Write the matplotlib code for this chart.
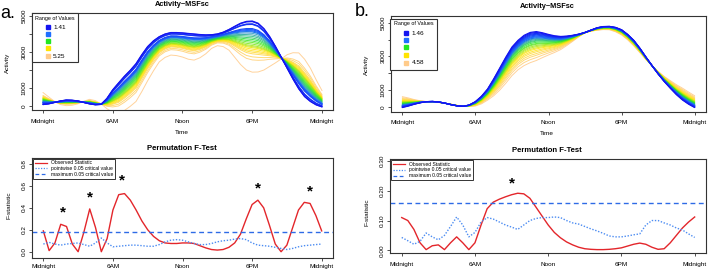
"""Functional regression of activity on MSFsc, with permutation F-tests (panels a and b)."""

import matplotlib
matplotlib.use("Agg")
import matplotlib.pyplot as plt
import numpy as np
from matplotlib.colors import LinearSegmentedColormap
from matplotlib.lines import Line2D
from matplotlib.patches import Rectangle

plt.rcParams["font.family"] = ["Liberation Sans", "DejaVu Sans"]

# --- Data -----------------------------------------------------------------
half_hours = [h / 2 for h in range(49)]
tick_hours = [0, 6, 12, 18, 24]
tick_names = ["Midnight", "6AM", "Noon", "6PM", "Midnight"]

# panel a: fitted activity curve at lowest and highest MSFsc (half-hour grid)
a_low_curve = [80, 120, 200, 280, 330, 320, 280, 200, 120, 70, 90, 420, 900, 1280,
               1650, 1980, 2350, 2850, 3300, 3620, 3850, 4000, 4080, 4080, 4060, 4030,
               4000, 3970, 3950, 3960, 4000, 4100, 4250, 4430, 4600, 4700, 4720, 4600,
               4300, 3850, 3300, 2700, 2100, 1500, 950, 520, 250, 60, -50]
a_high_curve = [750, 500, 250, 80, 20, 40, 120, 260, 370, 300, 120, -150, -350, -400,
                -250, -20, 250, 800, 1400, 1950, 2450, 2700, 2830, 2800, 2720, 2600,
                2550, 2680, 2900, 3200, 3350, 3300, 3100, 2700, 2300, 2000, 1880, 1890,
                2000, 2200, 2400, 2620, 2850, 2960, 2950, 2600, 2100, 1450, 850]
a_msfsc = [1.41, 1.45, 1.62, 1.66, 1.98, 2.06, 2.14, 2.22, 2.33, 2.45, 2.56, 2.68,
           2.79, 2.91, 3.02, 3.14, 3.25, 3.33, 3.41, 3.52, 3.64, 3.75, 3.87, 4.10,
           4.33, 5.25]

# panel b
b_low_curve = [-50, 40, 150, 240, 300, 310, 280, 210, 120, 50, 20, 100, 300, 620,
               1050, 1650, 2300, 2950, 3550, 3950, 4250, 4420, 4470, 4400, 4300, 4220,
               4180, 4200, 4250, 4320, 4420, 4560, 4700, 4770, 4780, 4720, 4580, 4300,
               3950, 3480, 2950, 2440, 1950, 1500, 1100, 720, 400, 150, -50]
b_high_curve = [600, 520, 420, 350, 300, 280, 250, 200, 150, 80, 30, 10, 40, 170,
                390, 650, 990, 1400, 1850, 2200, 2450, 2620, 2750, 2920, 3080, 3230,
                3400, 3640, 3900, 4170, 4400, 4500, 4550, 4590, 4580, 4460, 4270, 3980,
                3620, 3220, 2800, 2440, 2100, 1800, 1550, 1310, 1100, 870, 650]
b_msfsc = [1.46, 1.55, 1.65, 1.74, 1.83, 1.93, 2.02, 2.12, 2.21, 2.30, 2.40, 2.49,
           2.61, 2.74, 2.83, 2.96, 3.08, 3.21, 3.33, 3.49, 3.64, 3.83, 4.02, 4.27, 4.58]

range_colors = ["#1414F0", "#1E6EFF", "#22E622", "#FFE400", "#FFCB8A"]

# permutation F-tests, half-hour grid
a_observed = [0.19, 0.01, 0.08, 0.25, 0.23, 0.07, 0.0, 0.18, 0.39, 0.22, 0.0, 0.12,
              0.38, 0.52, 0.53, 0.47, 0.38, 0.28, 0.2, 0.14, 0.1, 0.08, 0.075, 0.075,
              0.08, 0.08, 0.075, 0.055, 0.035, 0.02, 0.015, 0.02, 0.04, 0.08, 0.16,
              0.3, 0.43, 0.47, 0.4, 0.24, 0.07, 0.0, 0.06, 0.22, 0.38, 0.45, 0.44,
              0.33, 0.19]
a_pointwise = [0.07, 0.085, 0.07, 0.06, 0.07, 0.075, 0.08, 0.065, 0.05, 0.08, 0.125,
               0.08, 0.045, 0.05, 0.055, 0.06, 0.06, 0.055, 0.05, 0.05, 0.065, 0.09,
               0.105, 0.11, 0.105, 0.09, 0.075, 0.065, 0.065, 0.075, 0.09, 0.1, 0.105,
               0.115, 0.12, 0.11, 0.08, 0.06, 0.055, 0.05, 0.04, 0.03, 0.02, 0.03,
               0.045, 0.055, 0.06, 0.065, 0.07]
a_maximum = 0.18
a_signif_hours = [1.7, 4.0, 6.75, 18.5, 23.0]
a_signif_heights = [0.36, 0.49, 0.65, 0.58, 0.55]

b_observed = [0.11, 0.10, 0.07, 0.025, 0.002, 0.015, 0.018, 0.002, 0.025, 0.045, 0.025,
              0.002, 0.025, 0.085, 0.14, 0.162, 0.172, 0.18, 0.187, 0.192, 0.19, 0.175,
              0.145, 0.115, 0.085, 0.06, 0.042, 0.028, 0.018, 0.01, 0.005, 0.003, 0.002,
              0.002, 0.003, 0.005, 0.008, 0.014, 0.02, 0.024, 0.02, 0.01, 0.003, 0.005,
              0.025, 0.05, 0.075, 0.095, 0.112]
b_pointwise = [0.043, 0.032, 0.02, 0.03, 0.058, 0.045, 0.035, 0.05, 0.08, 0.112, 0.085,
               0.045, 0.06, 0.095, 0.11, 0.105, 0.095, 0.085, 0.078, 0.07, 0.085, 0.1,
               0.107, 0.11, 0.11, 0.112, 0.11, 0.1, 0.092, 0.088, 0.08, 0.072, 0.065,
               0.057, 0.048, 0.045, 0.045, 0.048, 0.052, 0.055, 0.085, 0.1, 0.1, 0.092,
               0.085, 0.075, 0.068, 0.055, 0.043]
b_maximum = 0.16
b_signif_hours = [9.0]
b_signif_heights = [0.225]

RED = "#E3262B"
BLUE_DOT = "#4C8CF2"
BLUE_DASH = "#2E6BE6"
EDGE = "#333333"
W, H = 708, 270


def add_axes_px(fig, left, top, right, bottom):
    return fig.add_axes([left / W, 1 - bottom / H, (right - left) / W, (bottom - top) / H])


def style_axes(ax, ylim, yticks, ylabels, xlab_pad):
    ax.set_xlim(-0.96, 24.96)
    ax.set_ylim(*ylim)
    ax.set_xticks(tick_hours)
    ax.set_xticklabels(tick_names)
    ax.set_yticks(yticks)
    ax.set_yticklabels(ylabels, rotation=90, va="center")
    ax.tick_params(labelsize=4.6, length=2.2, width=0.6, color=EDGE, pad=1.5)
    ax.tick_params(axis="x", pad=xlab_pad)
    for s in ax.spines.values():
        s.set_color(EDGE)
        s.set_linewidth(0.8)


def draw_family(ax, low, high, msfsc):
    low = np.array(low, dtype=float)
    high = np.array(high, dtype=float)
    cmap = LinearSegmentedColormap.from_list("range", range_colors)
    n = len(msfsc)
    lo, hi = msfsc[0], msfsc[-1]
    # linear functional model: each subject curve sits between the two extremes
    for rank in range(n - 1, -1, -1):
        x = msfsc[rank]
        frac = (x - lo) / (hi - lo)
        col = cmap(rank / (n - 1))
        blue_side = rank < n * 0.3
        ax.plot(half_hours, low + (high - low) * frac, color=col,
                lw=0.9 if blue_side else 0.7, alpha=1.0 if blue_side else 0.85,
                solid_capstyle="round", solid_joinstyle="round")


def range_legend(ax, box, title_y, rows_y, mark_x, text_x, labels, ax_px):
    left, top, width, height = ax_px

    def fx(x):
        return (x - left) / width

    def fy(y):
        return 1 - (y - top) / height

    x0, y0, x1, y1 = box
    ax.add_patch(Rectangle((fx(x0), fy(y1)), fx(x1) - fx(x0), fy(y0) - fy(y1),
                           transform=ax.transAxes, facecolor="white", edgecolor=EDGE,
                           lw=0.8, zorder=5, clip_on=False))
    ax.text(fx((x0 + x1) / 2), fy(title_y), "Range of Values", transform=ax.transAxes,
            ha="center", va="center", fontsize=3.9, zorder=6)
    for col, yy, lab in zip(range_colors, rows_y, labels):
        ax.plot([fx(mark_x)], [fy(yy)], marker="s", ms=2.3, color=col,
                transform=ax.transAxes, zorder=6, clip_on=False)
        ax.text(fx(text_x), fy(yy), lab, transform=ax.transAxes, ha="left",
                va="center", fontsize=4.6, zorder=6)


def ftest_panel(ax, observed, pointwise, maximum, sig_h, sig_y):
    ax.plot(half_hours, observed, color=RED, lw=1.0, solid_joinstyle="round")
    ax.plot(half_hours, pointwise, color=BLUE_DOT, lw=1.0, ls=(0, (1, 1.2)))
    ax.axhline(maximum, color=BLUE_DASH, lw=1.0, ls=(0, (3.5, 2.5)))
    for h, y in zip(sig_h, sig_y):
        ax.text(h, y, "*", ha="center", va="center", fontsize=11, fontweight="bold")
    handles = [Line2D([], [], color=RED, lw=0.9),
               Line2D([], [], color=BLUE_DOT, lw=0.9, ls=(0, (1, 1.2))),
               Line2D([], [], color=BLUE_DASH, lw=0.9, ls=(0, (3, 2)))]
    leg = ax.legend(handles, ["Observed Statistic", "pointwise 0.05 critical value",
                              "maximum 0.05 critical value"],
                    loc="upper left", bbox_to_anchor=(0.0, 1.0), borderaxespad=0.2,
                    fontsize=3.6, handlelength=2.4, handletextpad=0.8,
                    labelspacing=0.15, borderpad=0.35, fancybox=False,
                    edgecolor=EDGE, framealpha=1)
    leg.get_frame().set_linewidth(0.7)


def main() -> None:
    fig = plt.figure(figsize=(W / 100, H / 100), dpi=100)

    # --- top row: fitted curves ---
    ax_a = add_axes_px(fig, 31.8, 13, 333.2, 110)
    draw_family(ax_a, a_low_curve, a_high_curve, a_msfsc)
    style_axes(ax_a, (-222, 5167), [0, 1000, 2000, 3000, 4000, 5000],
               ["0", "1000", "", "3000", "", "5000"], 4)
    range_legend(ax_a, (32, 13, 78, 62), 18.3, [27.3, 34, 41, 48.3, 56], 47.7, 53,
                 ["1.41", "", "", "", "5.25"], (31.8, 13, 301.4, 97))

    ax_b = add_axes_px(fig, 390.6, 15.7, 706.4, 111.7)
    draw_family(ax_b, b_low_curve, b_high_curve, b_msfsc)
    style_axes(ax_b, (-298, 5417), [0, 1000, 2000, 3000, 4000, 5000],
               ["0", "1000", "", "3000", "", "5000"], 4)
    range_legend(ax_b, (390, 19.3, 436.7, 70), 23.3, [33.3, 40, 47.3, 55, 62.7], 406,
                 411.7, ["1.46", "", "", "", "4.58"], (390.6, 15.7, 315.8, 96))

    # --- bottom row: permutation F-tests ---
    ax_c = add_axes_px(fig, 32.2, 157.7, 332.8, 258.3)
    ftest_panel(ax_c, a_observed, a_pointwise, a_maximum, a_signif_hours, a_signif_heights)
    style_axes(ax_c, (-0.06, 0.857), [0.0, 0.2, 0.4, 0.6, 0.8],
               ["0.0", "0.2", "0.4", "0.6", "0.8"], 2)

    ax_d = add_axes_px(fig, 390.0, 159, 706.4, 253.3)
    ftest_panel(ax_d, b_observed, b_pointwise, b_maximum, b_signif_hours, b_signif_heights)
    style_axes(ax_d, (-0.0104, 0.3074), [0.0, 0.1, 0.2, 0.3],
               ["0.00", "0.10", "0.20", "0.30"], 4)

    # --- titles and axis labels ---
    def ftext(x, y, s, **kw):
        fig.text(x / W, 1 - y / H, s, ha="center", va="center", **kw)

    ftext(182, 4.5, "Activity~MSFsc", fontsize=5.3, fontweight="bold")
    ftext(547, 7, "Activity~MSFsc", fontsize=5.3, fontweight="bold")
    ftext(182, 133, "Time", fontsize=4.6)
    ftext(547, 134, "Time", fontsize=4.6)
    ftext(7.5, 63, "Activity", fontsize=4.6, rotation=90)
    ftext(366, 65, "Activity", fontsize=4.6, rotation=90)
    ftext(182, 149, "Permutation F-Test", fontsize=5.6, fontweight="bold")
    ftext(547, 150, "Permutation F-Test", fontsize=5.6, fontweight="bold")
    ftext(9, 205, "F-statistic", fontsize=4.6, rotation=90)
    ftext(367, 212, "F-statistic", fontsize=4.6, rotation=90)
    ftext(8, 13, "a.", fontsize=13)
    ftext(362, 12, "b.", fontsize=13)

    fig.savefig("out.png", dpi=100)
    plt.close(fig)


if __name__ == "__main__":
    main()
